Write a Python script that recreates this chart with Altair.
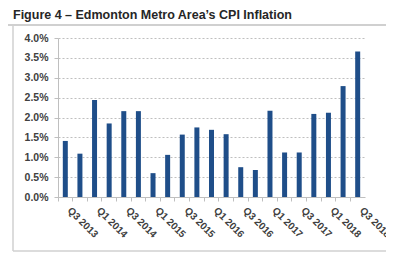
import altair as alt
import pandas as pd

quarters = ["Q3 2013", "Q4 2013", "Q1 2014", "Q2 2014", "Q3 2014", "Q4 2014",
            "Q1 2015", "Q2 2015", "Q3 2015", "Q4 2015", "Q1 2016", "Q2 2016",
            "Q3 2016", "Q4 2016", "Q1 2017", "Q2 2017", "Q3 2017", "Q4 2017",
            "Q1 2018", "Q2 2018", "Q3 2018*"]
cpi = [1.41, 1.09, 2.44, 1.85, 2.16, 2.16, 0.60, 1.06, 1.57, 1.75, 1.69, 1.58,
       0.75, 0.68, 2.17, 1.12, 1.12, 2.09, 2.12, 2.79, 3.66]
y_ticks = [0, 0.5, 1.0, 1.5, 2.0, 2.5, 3.0, 3.5, 4.0]
title_text = "Figure 4 \u2013 Edmonton Metro Area\u2019s CPI Inflation"

df = pd.DataFrame({"quarter": quarters, "cpi": cpi})

FONT = "Liberation Sans"
W, H = 307, 159

bars = alt.Chart(df).mark_bar(color="#1F4E89", width=5).encode(
    x=alt.X("quarter:N", sort=quarters, title=None,
            scale=alt.Scale(paddingInner=0.0, paddingOuter=0.0),
            axis=alt.Axis(
                bandPosition=0, labelOffset=W / 21 / 2,
                labelAngle=45, labelAlign="left", labelBaseline="top",
                labelExpr="(indexof(datum.label,'Q1')==0 || indexof(datum.label,'Q3')==0) ? datum.label : ''",
                labelFont=FONT, labelFontSize=10, labelFontWeight="bold",
                labelColor="#404040", labelPadding=4,
                domainColor="#bfbfbf", tickColor="#bfbfbf", tickSize=4,
                grid=False, labelOverlap=False)),
    y=alt.Y("cpi:Q", title=None,
            scale=alt.Scale(domain=[0, 4], nice=False),
            axis=alt.Axis(values=y_ticks,
                          labelExpr="format(datum.value, '.1f') + '%'",
                          labelFont=FONT, labelFontSize=10.5, labelFontWeight="bold",
                          labelColor="#404040", labelPadding=6,
                          domainColor="#bfbfbf", tickColor="#bfbfbf", tickSize=4,
                          grid=True, gridColor="#bfbfbf", gridDash=[2, 2],
                          gridWidth=1)),
)

one = alt.Data(values=[{}])

title = alt.Chart(one).mark_text(
    text=title_text, align="left", baseline="alphabetic",
    font=FONT, fontSize=12.5, fontWeight="bold", color="#262626"
).encode(x=alt.value(-45), y=alt.value(-19))

underline = alt.Chart(one).mark_rule(color="#d0d0d0", strokeWidth=2).encode(
    x=alt.value(-58), x2=alt.value(336), y=alt.value(-13))
left_border = alt.Chart(one).mark_rule(color="#d0d0d0", strokeWidth=1.5).encode(
    x=alt.value(-45), y=alt.value(-12), y2=alt.value(213))
bottom_border = alt.Chart(one).mark_rule(color="#d0d0d0", strokeWidth=1.5).encode(
    x=alt.value(-45), x2=alt.value(336), y=alt.value(213))

chart = alt.layer(underline, left_border, bottom_border, bars, title).properties(
    width=W, height=H,
    autosize=alt.AutoSizeParams(type="none"),
    padding={"left": 50, "top": 30, "right": 21, "bottom": 55},
    background="white",
).configure_view(stroke=None)

chart.save("out.html", embed_options={"renderer": "svg", "actions": False})
